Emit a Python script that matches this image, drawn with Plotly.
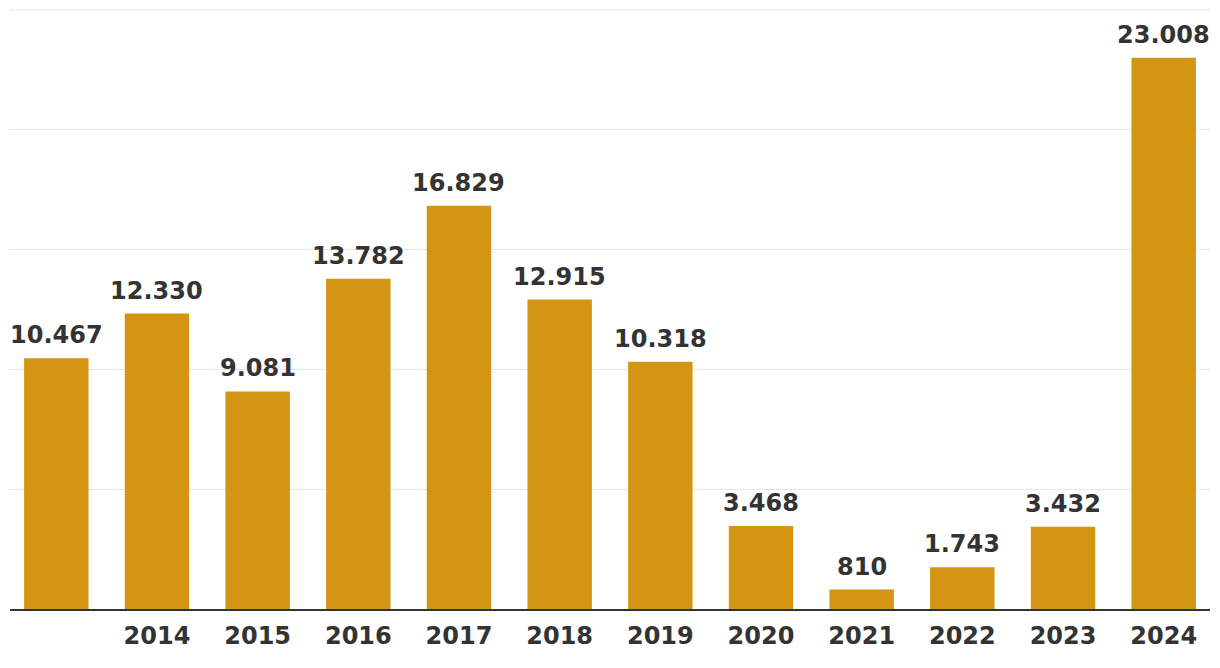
import plotly.graph_objects as go

years = ["2013", "2014", "2015", "2016", "2017", "2018", "2019", "2020", "2021", "2022", "2023", "2024"]
values = [10467, 12330, 9081, 13782, 16829, 12915, 10318, 3468, 810, 1743, 3432, 23008]
shown_ticks = ["", "2014", "2015", "2016", "2017", "2018", "2019", "2020", "2021", "2022", "2023", "2024"]
grid_values = [0, 5000, 10000, 15000, 20000, 25000]

BAR = "#D39513"
TXT = "#333333"
GRID = "#e6e6e6"
FONT = "DejaVu Sans"


def fmt(v):
    return f"{v:,}".replace(",", ".")


xs = list(range(len(years)))

fig = go.Figure(go.Bar(
    x=xs,
    y=values,
    width=0.64,
    marker=dict(color=BAR, line=dict(width=0)),
    hovertext=years,
))

for x, v in zip(xs, values):
    fig.add_annotation(
        x=x, y=v, text=fmt(v), showarrow=False,
        xanchor="center", yanchor="bottom", yshift=7,
        font=dict(family=FONT, size=24, color=TXT, weight="bold"),
    )

# top gridline drawn explicitly (edge gridline)
fig.add_shape(type="line", xref="paper", yref="y", x0=0, x1=1,
              y0=grid_values[-1], y1=grid_values[-1],
              line=dict(color=GRID, width=1), layer="below")

fig.update_layout(
    width=1212, height=660,
    margin=dict(l=2, r=10, t=1, b=59, autoexpand=False),
    paper_bgcolor="white", plot_bgcolor="white",
    showlegend=False,
    xaxis=dict(
        range=[-0.46, 11.46],
        tickmode="array",
        tickvals=xs,
        ticktext=shown_ticks,
        showgrid=False,
        showline=True, linecolor=TXT, linewidth=2,
        ticks="", ticklabelstandoff=4,
        tickfont=dict(family=FONT, size=24, color=TXT, weight="bold"),
        automargin=False,
        fixedrange=True,
    ),
    yaxis=dict(
        range=[0, 25040],
        tickmode="array",
        tickvals=grid_values,
        showticklabels=False,
        showgrid=True, gridcolor=GRID, gridwidth=1,
        zeroline=False,
        automargin=False,
        fixedrange=True,
    ),
)

fig.write_html("out.html")
